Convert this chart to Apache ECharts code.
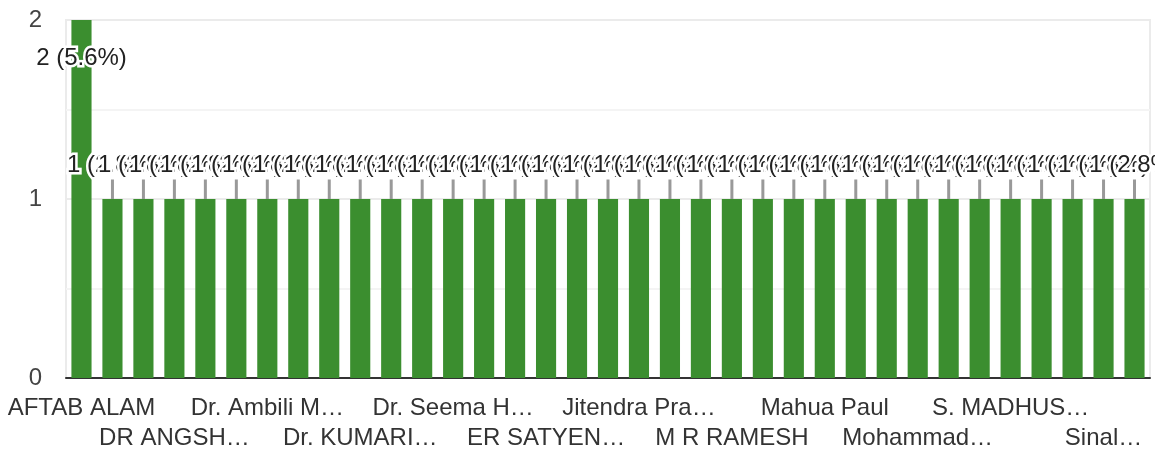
<!DOCTYPE html>
<html>
<head>
<meta charset="utf-8">
<script src="https://cdn.jsdelivr.net/npm/echarts@6/dist/echarts.min.js"></script>
<style>
  html, body { margin: 0; padding: 0; background: #fff; }
  #chart { width: 1155px; height: 453px; }
</style>
</head>
<body>
<div id="chart"></div>
<script>
const names = [
    'AFTAB ALAM', 'Abhishek Kumar', 'Anil Sharma', 'DR ANGSHUMAN SARKAR', 'DR. P. SRINIVAS',
    'Deepak Verma', 'Dr. Ambili M Nair', 'Dr. Anjali Gupta', 'Dr. G. Rajesh', 'Dr. KUMARI SUNITA',
    'Dr. Pradeep Singh', 'Dr. Rakesh Yadav', 'Dr. Seema Halder', 'Dr. Vivek Mishra', 'ER RAJESH KUMAR',
    'ER SATYENDRA NATH', 'Gaurav Jain', 'Hemant Patil', 'Jitendra Prasad', 'Kavita Rao',
    'Lalit Mohan', 'M R RAMESH', 'MANOJ KUMAR', 'MEENA DEVI', 'Mahua Paul',
    'Manish Tiwari', 'Meera Nair', 'Mohammad Wasim', 'Nitin Joshi', 'Pooja Singh',
    'S. MADHUSUDAN', 'Sanjay Gupta', 'Shalini Das', 'Sinal Fernandes', 'Sunita Reddy'
];
const counts = [
    2, 1, 1, 1, 1, 1, 1, 1, 1, 1,
    1, 1, 1, 1, 1, 1, 1, 1, 1, 1,
    1, 1, 1, 1, 1, 1, 1, 1, 1, 1,
    1, 1, 1, 1, 1
];
const yTicks = [0, 1, 2];

const total = counts.reduce((a, b) => a + b, 0);
const labelFont = '24px "Liberation Sans"';

// every 3rd name is labelled, alternating between two rows
function rowLabel(row) {
    return function (value, index) {
        if (index % 6 !== row * 3) return '';
        // last label sits against the right edge, less room
        const w = index >= names.length - 2 ? 82 : 163;
        const txt = echarts.format.truncateText(value, w, labelFont, '…');
        return txt.replace(/\s+…$/, '…');
    };
}

const labelStyle = {
    interval: 0,
    showMinLabel: true,
    showMaxLabel: true,
    margin: 18,
    fontSize: 24,
    fontFamily: 'Liberation Sans',
    color: '#333'
};

const myChart = echarts.init(document.getElementById('chart'));
const option = {
    animation: false,
    grid: {
        left: 66, right: 5, top: 20, bottom: 75,
        show: true, borderColor: '#ebebeb', borderWidth: 2
    },
    xAxis: [{
        type: 'category',
        data: names,
        axisTick: { show: false },
        axisLine: { lineStyle: { color: '#333', width: 2 } },
        axisLabel: Object.assign({ formatter: rowLabel(0) }, labelStyle)
    }, {
        type: 'category',
        data: names,
        position: 'bottom',
        offset: 30,
        axisTick: { show: false },
        axisLine: { show: false },
        splitLine: { show: false },
        axisLabel: Object.assign({ formatter: rowLabel(1) }, labelStyle)
    }],
    yAxis: {
        type: 'value',
        min: yTicks[0],
        max: yTicks[yTicks.length - 1],
        interval: 1,
        axisLabel: { fontSize: 24, fontFamily: 'Liberation Sans', color: '#444', margin: 24 },
        splitLine: { lineStyle: { color: '#ebebeb', width: 2 } },
        minorTick: { show: false, splitNumber: 2 },
        minorSplitLine: { show: true, lineStyle: { color: '#f4f4f4', width: 2 } }
    },
    series: [{
        type: 'bar',
        data: counts,
        barCategoryGap: '35%',
        itemStyle: { color: '#3b8e2f' },
        label: {
            show: true,
            position: 'top',
            distance: 0,
            fontSize: 24,
            fontFamily: 'Liberation Sans',
            color: '#222',
            textBorderColor: '#fff',
            textBorderWidth: 5,
            formatter: function (p) {
                return p.value + ' (' + (p.value / total * 100).toFixed(1) + '%)';
            }
        },
        labelLine: { show: true, lineStyle: { color: '#999', width: 3 } },
        labelLayout: function (params) {
            return params.dataIndex === 0 ? { dy: 50 } : { dy: -22 };
        }
    }]
};
myChart.setOption(option);
</script>
</body>
</html>
